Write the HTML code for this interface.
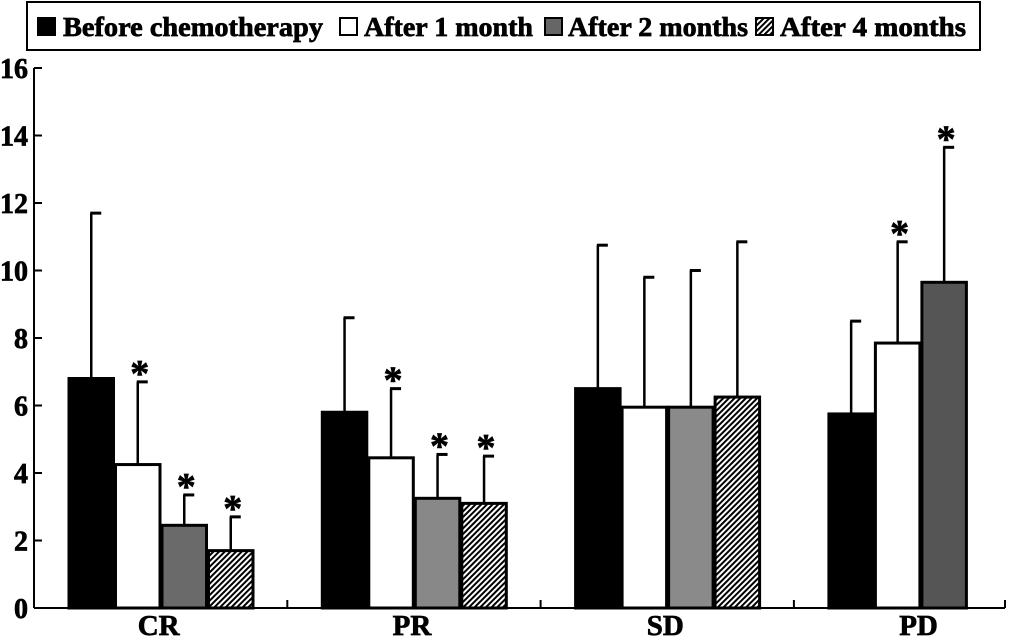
<!DOCTYPE html>
<html><head><meta charset="utf-8"><style>body{margin:0;background:#fff}svg{display:block}text{font-family:"Liberation Serif",serif;font-weight:bold;stroke:#000;stroke-width:0.7}</style></head>
<body>
<svg id="chart" width="1017" height="637">
<defs>
<pattern id="hatch" width="4" height="4" patternUnits="userSpaceOnUse" patternTransform="rotate(45)">
<rect width="4" height="4" fill="#fff"/><rect width="2" height="4" fill="#000"/></pattern>
</defs>
<g id="legend">
<rect x="27" y="2" width="953" height="48" fill="#fff" stroke="#000" stroke-width="2"/>
<rect x="37" y="17" width="19" height="19" fill="#000"/>
<text x="63" y="36" font-size="27" textLength="260" lengthAdjust="spacingAndGlyphs">Before chemotherapy</text>
<rect x="340" y="18" width="17" height="17" fill="#fff" stroke="#000" stroke-width="2"/>
<text x="364" y="36" font-size="27" textLength="169" lengthAdjust="spacingAndGlyphs">After 1 month</text>
<rect x="545" y="18" width="17" height="17" fill="#666" stroke="#000" stroke-width="2"/>
<text x="568" y="36" font-size="27" textLength="180" lengthAdjust="spacingAndGlyphs">After 2 months</text>
<rect x="756" y="18" width="17" height="17" fill="url(#hatch)" stroke="#000" stroke-width="2"/>
<text x="780" y="36" font-size="27" textLength="186" lengthAdjust="spacingAndGlyphs">After 4 months</text>
</g>
<g id="plot"></g>
</svg>
<script>
const categories = ["CR","PR","SD","PD"];
const beforeVals = [6.8,5.8,6.5,5.75];
const beforeErr = [11.7,8.6,10.75,8.5];
const m1Vals = [4.25,4.45,5.95,7.85];
const m1Err = [6.7,6.5,9.8,10.85];
const m2Vals = [2.45,3.25,5.95,9.65];
const m2Err = [3.35,4.55,10.0,13.65];
const m4Vals = [1.7,3.1,6.25,null];
const m4Err = [2.7,4.5,10.85,null];
const m1Sig = [true,true,false,true];
const m2Sig = [true,true,false,true];
const m4Sig = [true,true,false,false];
const yTicks = [0,2,4,6,8,10,12,14,16];

const NS="http://www.w3.org/2000/svg";
const plot=document.getElementById('plot');
const x0=34,x1=1005,y0=608,yTop=68,yMax=16;
const catW=253.3, barW=46.5;
const y=v=>y0-(v/yMax)*(y0-yTop);
function mk(t,a){const e=document.createElementNS(NS,t);for(const k in a)e.setAttribute(k,a[k]);plot.appendChild(e);return e;}
const grayFill=["#6a6a6a","#888","#8a8a8a","#555"];
const series=[
 {v:beforeVals,e:beforeErr,s:null,name:"before"},
 {v:m1Vals,e:m1Err,s:m1Sig,name:"1-month"},
 {v:m2Vals,e:m2Err,s:m2Sig,name:"2-months"},
 {v:m4Vals,e:m4Err,s:m4Sig,name:"4-months"}];
categories.forEach((c,ci)=>{
 const gx=x0+ci*catW+34;
 series.forEach((s,si)=>{
  const val=s.v[ci]; if(val==null) return;
  const bx=gx+si*barW, cx=bx+barW/2;
  const er=s.e[ci];
  const el=mk('line',{x1:cx,x2:cx,y1:y(val),y2:y(er),stroke:'#000','stroke-width':2.5});
  
  
  const cap=mk('line',{x1:cx-1,x2:cx+10,y1:y(er),y2:y(er),stroke:'#000','stroke-width':3});
  
  
  let fill = si==0?'#000':si==1?'#fff':si==2?grayFill[ci]:'url(#hatch)';
  const r=mk('rect',{x:bx+1,y:y(val),width:barW-2,height:y0-y(val),fill:fill,stroke:'#000','stroke-width':3});
  
  
  if(s.s && s.s[ci]){
   const t=mk('text',{x:cx+2,y:y(er)+4,'font-size':38,'text-anchor':'middle'});
   t.textContent='*';
   
   
  }
 });
 const lb=mk('text',{x:x0+ci*catW+catW/2-2,y:635,'font-size':29,'text-anchor':'middle'});
 lb.textContent=c;
 
 
 const tx=Math.min(x0+(ci+1)*catW,x1);
 const tk=mk('line',{x1:tx,x2:tx,y1:y0,y2:y0-8,stroke:'#000','stroke-width':2});
 
 
});
const ax=mk('line',{x1:x0,x2:x1,y1:y0,y2:y0,stroke:'#000','stroke-width':2});


const ay=mk('line',{x1:x0,x2:x0,y1:y0,y2:yTop,stroke:'#000','stroke-width':2});


yTicks.forEach(v=>{
 const t=mk('line',{x1:x0,x2:x0+8,y1:y(v),y2:y(v),stroke:'#000','stroke-width':2});
 
 
 const l=mk('text',{x:28,y:y(v)+10,'font-size':28,'text-anchor':'end'});
 l.textContent=v;
 
 
});
</script>
</body></html>
